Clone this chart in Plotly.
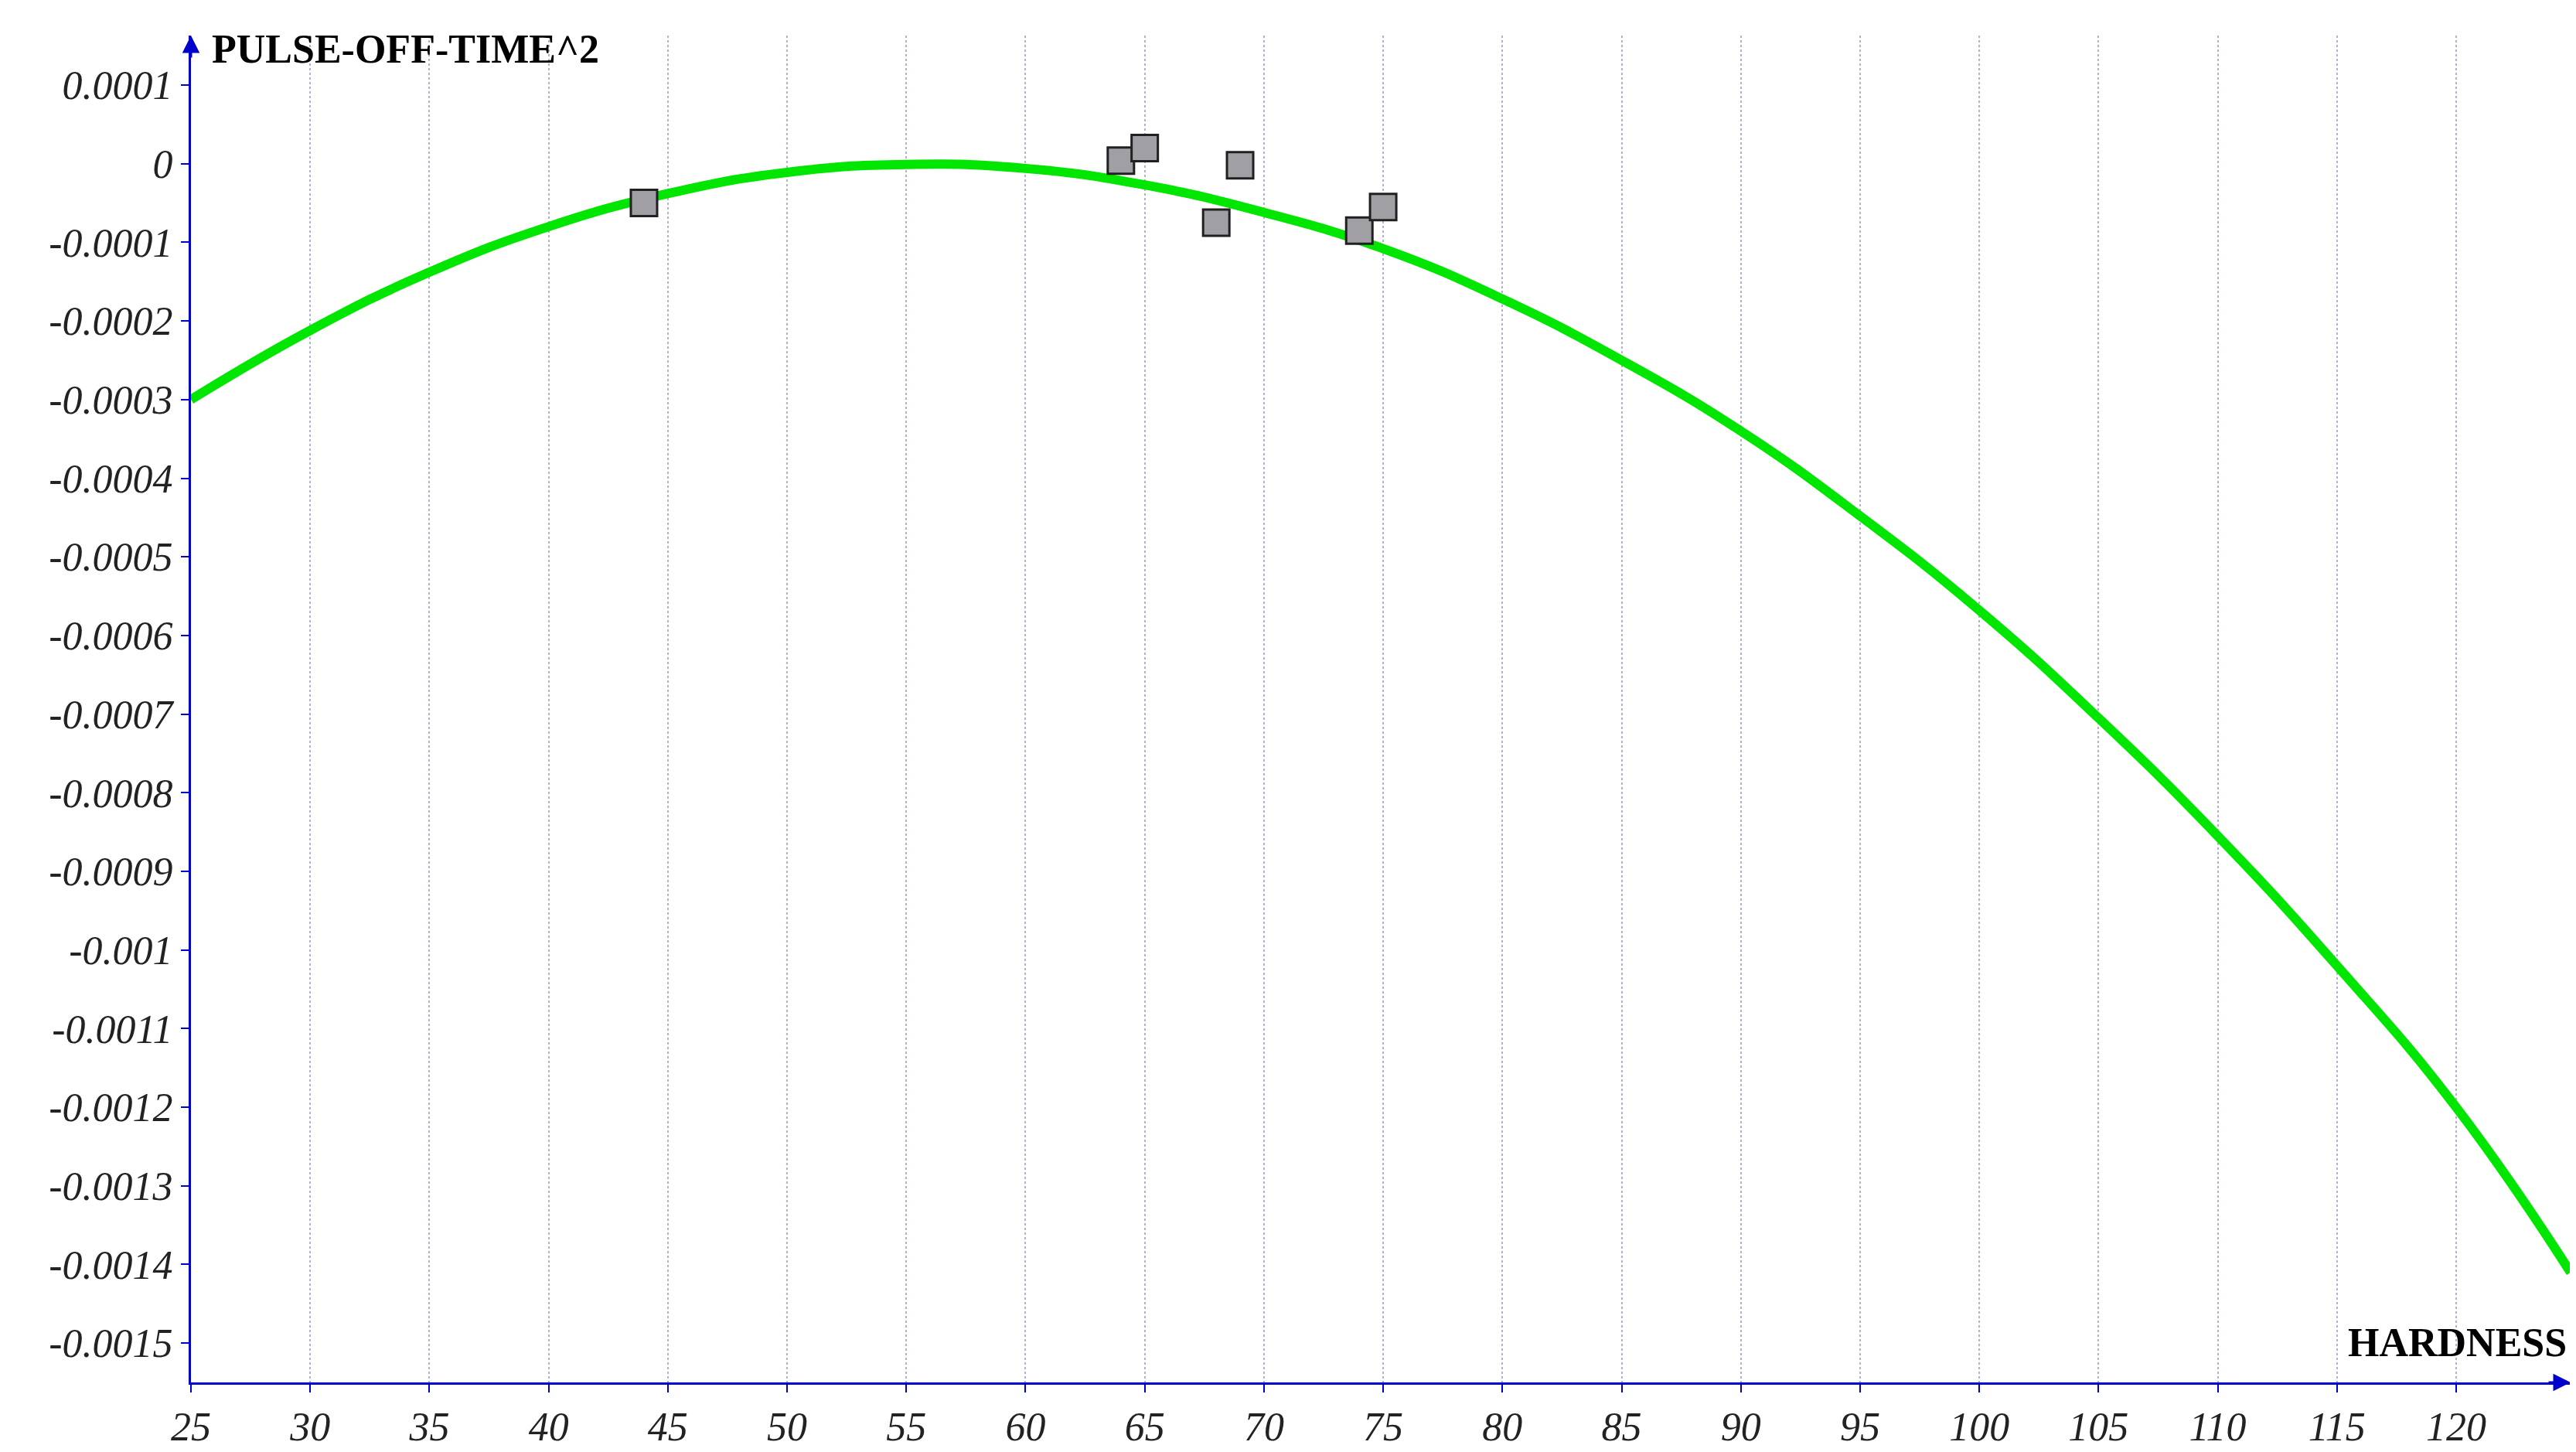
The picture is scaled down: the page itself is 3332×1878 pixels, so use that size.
import plotly.graph_objects as go

# fitted curve
curve_x = [25, 30, 35, 40, 45, 50, 55, 60, 65, 70, 75, 80, 85, 90, 95, 100, 105, 110, 115, 120, 124.8]
curve_y = [-0.0003, -0.000212, -0.000138, -0.00008, -0.000038, -0.000011, -0.000001, -0.000006, -0.000027,
           -0.000062, -0.000108, -0.000172, -0.00025, -0.00034, -0.000448, -0.000568, -0.000705, -0.000855,
           -0.00102, -0.0012, -0.00141]

# observed points
pts_x = [44, 64, 65, 68, 69, 74, 75]
pts_y = [-0.00005, 0.000004, 0.00002, -0.000075, -0.000002, -0.000085, -0.000055]

x_ticks = list(range(25, 125, 5))
y_ticks = [0.0001, 0, -0.0001, -0.0002, -0.0003, -0.0004, -0.0005, -0.0006, -0.0007, -0.0008,
           -0.0009, -0.001, -0.0011, -0.0012, -0.0013, -0.0014, -0.0015]
y_labels = ["0.0001", "0", "-0.0001", "-0.0002", "-0.0003", "-0.0004", "-0.0005", "-0.0006", "-0.0007",
            "-0.0008", "-0.0009", "-0.001", "-0.0011", "-0.0012", "-0.0013", "-0.0014", "-0.0015"]

serif = "Liberation Serif"

fig = go.Figure()
fig.add_trace(go.Scatter(x=curve_x, y=curve_y, mode="lines",
                         line=dict(color="#00e600", width=12, shape="spline", smoothing=1.3),
                         showlegend=False))
fig.add_trace(go.Scatter(x=pts_x, y=pts_y, mode="markers",
                         marker=dict(symbol="square", size=34, color="#a0a0a4", line=dict(color="#202020", width=3)),
                         showlegend=False))

fig.update_xaxes(range=[25, 124.8], tickvals=x_ticks, showgrid=True, gridcolor="#b0b0d0", griddash="dot",
                 gridwidth=2, showline=True, linecolor="#0000cc", linewidth=3, ticks="outside",
                 tickcolor="#0000cc", ticklen=10, tickwidth=2, zeroline=False,
                 tickfont=dict(family=serif, size=52, color="#222", style="italic"))
fig.update_yaxes(range=[-0.00155, 0.000163], tickvals=y_ticks, ticktext=y_labels, showgrid=False,
                 showline=True, linecolor="#0000cc", linewidth=3, ticks="outside", tickcolor="#0000cc",
                 ticklen=10, tickwidth=2, zeroline=False,
                 tickfont=dict(family=serif, size=52, color="#222", style="italic"))

# axis arrows and titles
fig.add_annotation(x=0, y=1.0, xref="paper", yref="paper", ax=0, ay=30, showarrow=True, arrowhead=2,
                   arrowsize=1.5, arrowwidth=3, arrowcolor="#0000cc", text="")
fig.add_annotation(x=1.0, y=0, xref="paper", yref="paper", ax=-30, ay=0, showarrow=True, arrowhead=2,
                   arrowsize=1.5, arrowwidth=3, arrowcolor="#0000cc", text="")
fig.add_annotation(x=0.008, y=0.99, xref="paper", yref="paper", xanchor="left", yanchor="middle", showarrow=False,
                   text="<b>PULSE-OFF-TIME^2</b>", font=dict(family=serif, size=52, color="black"))
fig.add_annotation(x=0.999, y=0.012, xref="paper", yref="paper", xanchor="right", yanchor="bottom", showarrow=False,
                   text="<b>HARDNESS</b>", font=dict(family=serif, size=52, color="black"))

fig.update_layout(width=3332, height=1878, plot_bgcolor="white", paper_bgcolor="white",
                  margin=dict(l=239, r=15, t=38, b=84))
fig.write_html("out.html")
